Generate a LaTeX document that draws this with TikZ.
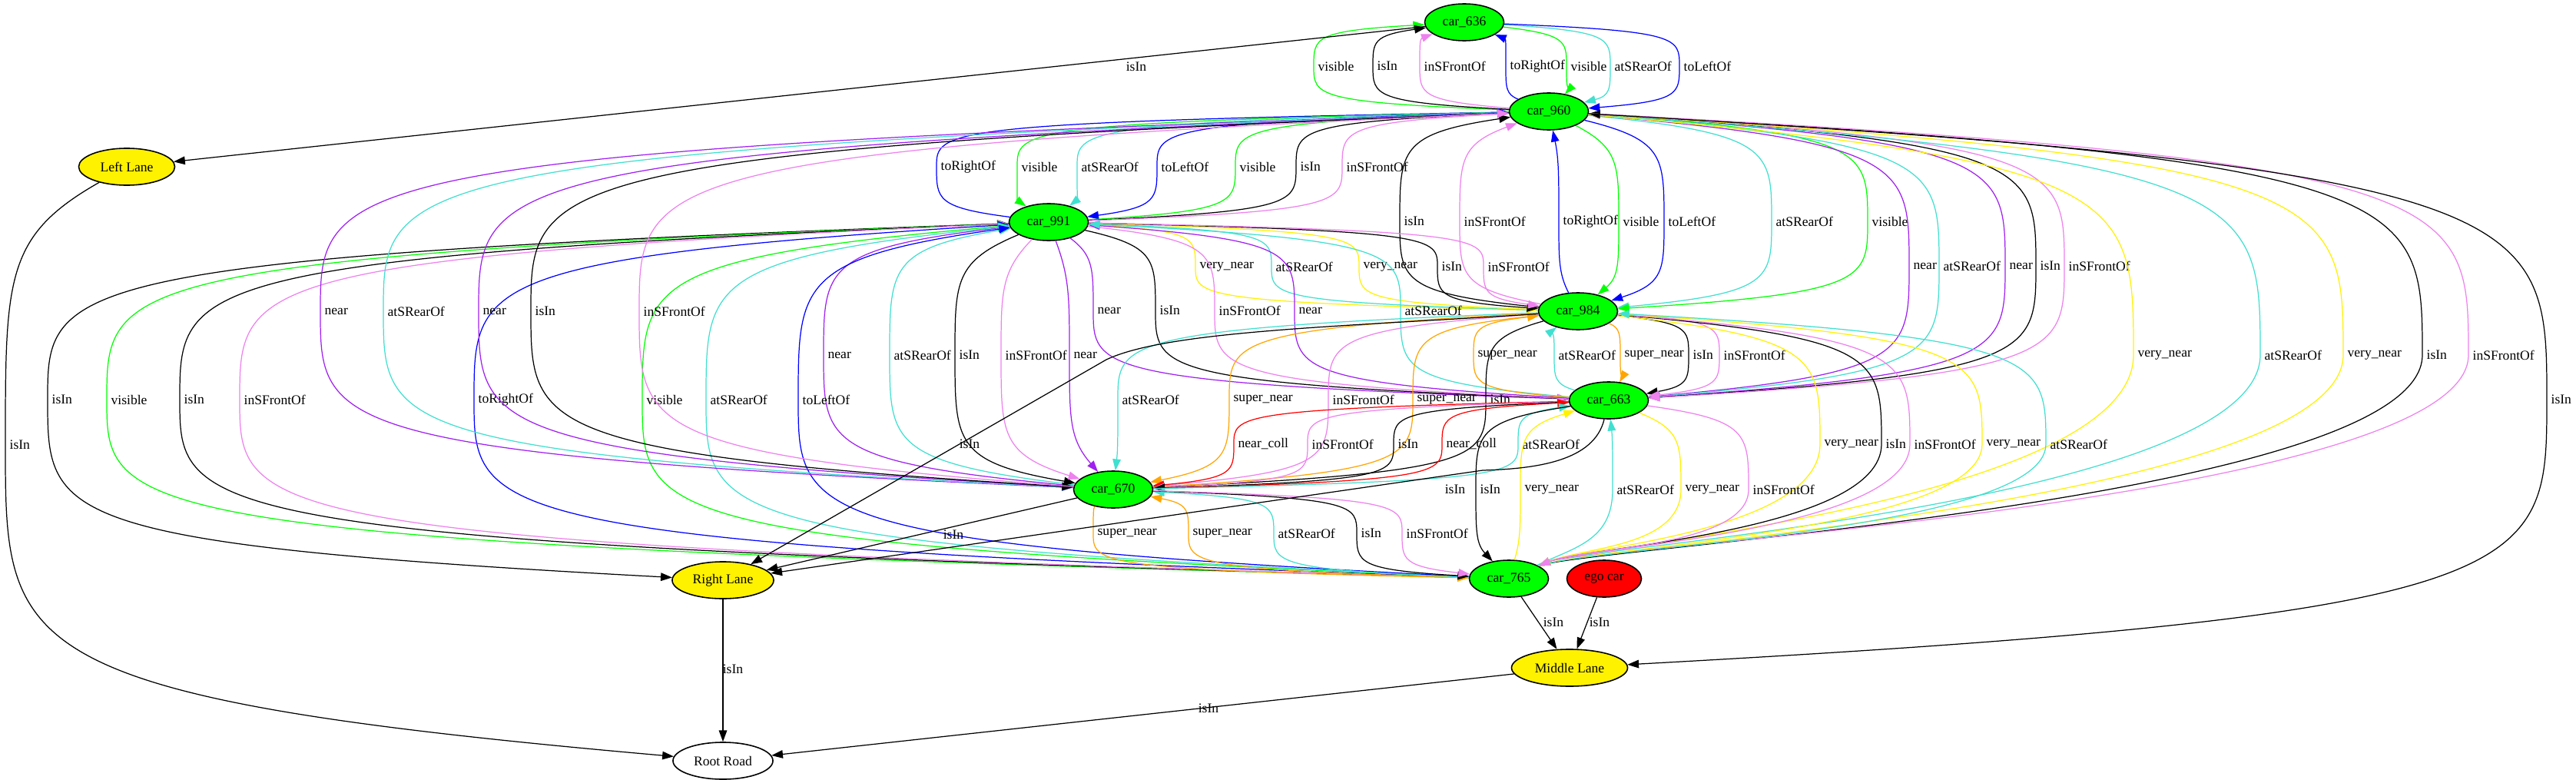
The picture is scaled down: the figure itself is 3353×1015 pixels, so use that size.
\documentclass[tikz,border=0pt]{standalone}
\usepackage{fontspec}
\setmainfont{Liberation Serif}
\usetikzlibrary{shapes.geometric,arrows.meta,calc}
\definecolor{gvpurple}{HTML}{A020F0}
\definecolor{gvviolet}{HTML}{EE82EE}
\definecolor{gvturq}{HTML}{40E0D0}
\definecolor{gvorange}{HTML}{FFA500}
\newcommand{\lblfont}{\fontsize{5}{6}\selectfont}
\tikzstyle{car} = [draw, ellipse, fill=green, line width=0.45pt,
    minimum width=1.03cm, minimum height=0.48cm, inner sep=0pt, font=\lblfont]
\tikzstyle{egocar} = [car, fill=red, minimum width=0.97cm]
\tikzstyle{lane} = [car, fill=yellow]
\tikzstyle{road} = [car, fill=white, minimum width=1.3cm]
\tikzstyle{rel} = [->, line width=0.35pt]
\tikzstyle{lbl} = [anchor=west, inner sep=0pt, xshift=0.05cm, font=\lblfont, text=black]
\tikzstyle{flbl} = [inner sep=0pt, font=\lblfont, text=black]
\tikzstyle{blk} = [rel, black]
\tikzstyle{grn} = [rel, green]
\tikzstyle{blu} = [rel, blue]
\tikzstyle{prp} = [rel, gvpurple]
\tikzstyle{vio} = [rel, gvviolet]
\tikzstyle{tur} = [rel, gvturq]
\tikzstyle{yel} = [rel, yellow]
\tikzstyle{orn} = [rel, gvorange]
\tikzstyle{rd} = [rel, red]
% #1 end control (optional), #2 style, #3 from, #4 to, #5,#6 label point, #7 label
\newcommand{\relEdge}[7][]{%
  \path (#5,#6) coordinate (m);
  \pgfpointanchor{#3}{center}\pgfgetlastxy{\ax}{\ay}%
  \pgfpointanchor{#4}{center}\pgfgetlastxy{\bx}{\by}%
  \pgfpointanchor{m}{center}\pgfgetlastxy{\mx}{\my}%
  \pgfmathsetmacro{\fa}{max(0.2,0.45*(1-abs(\mx-\ax)/100))}%
  \pgfmathsetmacro{\fb}{max(0.2,0.45*(1-abs(\mx-\bx)/100))}%
  \pgfmathsetmacro{\ga}{\fa+0.15}%
  \pgfmathsetmacro{\gb}{\fb+0.15}%
  \path ($(#3)!\fa!(m)$) coordinate (q1) ($(#3)!\ga!(m)$) coordinate (q2)
        ($(#4)!\gb!(m)$) coordinate (q3) ($(#4)!\fb!(m)$) coordinate (q4);
  \ifx\relax#1\relax \path (m |- q4) coordinate (c4); \else \path (#1) coordinate (c4); \fi
  \draw[#2] (#3) .. controls (m |- q1) and (m |- q2) .. (m) node[lbl] {#7}
     .. controls (m |- q3) and (c4) .. (#4);
}

\begin{document}
\begin{tikzpicture}[x=0.01cm, y=-0.01cm, >={Triangle[length=4.2pt,width=3pt]}]
    \useasboundingbox (0,0) rectangle (3353,1015);
    \fill[white] (0,0) rectangle (3353,1015);

    \node [car] (c636) at (1906,29) {car\_636};
    \node [car] (c960) at (2016,145) {car\_960};
    \node [car] (c991) at (1365,289) {car\_991};
    \node [car] (c984) at (2054,405) {car\_984};
    \node [car] (c663) at (2094,521) {car\_663};
    \node [car] (c670) at (1449,637) {car\_670};
    \node [car] (c765) at (1964,753) {car\_765};
    \node [egocar] (ego) at (2088,753) {ego car};
    \node [lane, minimum width=1.25cm] (LL) at (165,217) {Left Lane};
    \node [lane, minimum width=1.32cm] (RL) at (941,755) {Right Lane};
    \node [lane, minimum width=1.51cm] (ML) at (2043,869) {Middle Lane};
    \node [road] (RR) at (941,990) {Root Road};

    \relEdge{grn}{c960}{c636}{1710}{86}{visible}
    \relEdge{blk}{c960}{c636}{1787}{86}{isIn}
    \relEdge{vio}{c960}{c636}{1848}{86}{inSFrontOf}
    \relEdge{blu}{c960}{c636}{1960}{86}{toRightOf}
    \relEdge{grn}{c636}{c960}{2039}{86}{visible}
    \relEdge{tur}{c636}{c960}{2096}{86}{atSRearOf}
    \relEdge{blu}{c636}{c960}{2186}{86}{toLeftOf}

    \relEdge{blu}{c991}{c960}{1219}{217}{toRightOf}
    \relEdge{grn}{c960}{c991}{1324}{217}{visible}
    \relEdge{tur}{c960}{c991}{1402}{217}{atSRearOf}
    \relEdge{blu}{c960}{c991}{1506}{217}{toLeftOf}
    \relEdge{grn}{c991}{c960}{1608}{217}{visible}
    \relEdge{blk}{c991}{c960}{1687}{217}{isIn}
    \relEdge{vio}{c991}{c960}{1747}{217}{inSFrontOf}

    \relEdge{blk}{c984}{c960}{1822}{288}{isIn}
    \relEdge{vio}{c984}{c960}{1900}{288}{inSFrontOf}
    \relEdge{blu}{c984}{c960}{2029}{288}{toRightOf}
    \relEdge{grn}{c960}{c984}{2107}{288}{visible}
    \relEdge{blu}{c960}{c984}{2166}{288}{toLeftOf}
    \relEdge{tur}{c960}{c984}{2306}{288}{atSRearOf}
    \relEdge{grn}{c960}{c984}{2431}{288}{visible}

    \relEdge{prp}{c960}{c663}{2485}{346}{near}
    \relEdge{tur}{c960}{c663}{2524}{346}{atSRearOf}
    \relEdge{prp,<-}{c960}{c663}{2610}{346}{near}
    \relEdge{blk}{c960}{c663}{2650}{346}{isIn}
    \relEdge{vio}{c960}{c663}{2687}{346}{inSFrontOf}

    \relEdge[2060,712]{yel}{c960}{c765}{2777}{462}{very\_near}
    \relEdge[2060,712]{tur}{c960}{c765}{2942}{462}{atSRearOf}
    \relEdge[2060,712]{yel,<-}{c960}{c765}{3050}{462}{very\_near}
    \relEdge[2060,712]{blk,<-}{c960}{c765}{3153}{462}{isIn}
    \relEdge[2060,712]{vio}{c960}{c765}{3213}{462}{inSFrontOf}
    \relEdge{blk}{c960}{ML}{3315}{520}{isIn}

    \relEdge{yel,<-}{c991}{c984}{1556}{347}{very\_near}
    \relEdge{tur,<-}{c991}{c984}{1655}{347}{atSRearOf}
    \relEdge{yel}{c991}{c984}{1769}{347}{very\_near}
    \relEdge{blk}{c991}{c984}{1871}{347}{isIn}
    \relEdge{vio}{c991}{c984}{1931}{347}{inSFrontOf}

    \relEdge{prp}{c991}{c663}{1423}{404}{near}
    \relEdge{blk}{c991}{c663}{1504}{404}{isIn}
    \relEdge{vio}{c991}{c663}{1581}{404}{inSFrontOf}
    \relEdge{prp,<-}{c991}{c663}{1685}{404}{near}
    \relEdge{tur,<-}{c991}{c663}{1823}{404}{atSRearOf}

    \relEdge{prp,<-}{c991}{c670}{1072}{462}{near}
    \relEdge{tur,<-}{c991}{c670}{1158}{462}{atSRearOf}
    \relEdge{blk}{c991}{c670}{1243}{462}{isIn}
    \relEdge{vio}{c991}{c670}{1303}{462}{inSFrontOf}
    \relEdge{prp}{c991}{c670}{1392}{462}{near}

    \relEdge{blk}{c991}{RL}{62}{520}{isIn}
    \relEdge{grn}{c765}{c991}{139}{520}{visible}
    \relEdge{blk}{c765}{c991}{234}{520}{isIn}
    \relEdge{vio}{c765}{c991}{312}{520}{inSFrontOf}
    \relEdge{blu}{c765}{c991}{617}{520}{toRightOf}
    \relEdge{grn}{c765}{c991}{836}{520}{visible}
    \relEdge{tur}{c765}{c991}{919}{520}{atSRearOf}
    \relEdge{blu}{c765}{c991}{1039}{520}{toLeftOf}

    \relEdge{prp,<-}{c960}{c670}{417}{405}{near}
    \relEdge{tur}{c960}{c670}{499}{405}{atSRearOf}
    \relEdge{prp}{c960}{c670}{623}{405}{near}
    \relEdge{blk}{c960}{c670}{691}{405}{isIn}
    \relEdge{vio,<-}{c960}{c670}{832}{405}{inSFrontOf}

    \relEdge{orn,<-}{c984}{c663}{1918}{462}{super\_near}
    \relEdge{tur,<-}{c984}{c663}{2023}{462}{atSRearOf}
    \relEdge{orn}{c984}{c663}{2109}{462}{super\_near}
    \relEdge{blk}{c984}{c663}{2198}{462}{isIn}
    \relEdge{vio}{c984}{c663}{2238}{462}{inSFrontOf}

    \relEdge{tur}{c984}{c670}{1455}{520}{atSRearOf}
    \relEdge{orn}{c984}{c670}{1600}{520}{super\_near}
    \relEdge{vio}{c984}{c670}{1729}{520}{inSFrontOf}
    \relEdge{orn,<-}{c984}{c670}{1839}{520}{super\_near}
    \relEdge{blk}{c984}{c670}{1934}{520}{isIn}

    \relEdge{rd}{c663}{c670}{1606}{578}{near\_coll}
    \relEdge{vio}{c663}{c670}{1702}{578}{inSFrontOf}
    \relEdge{blk}{c663}{c670}{1814}{578}{isIn}
    \relEdge{rd,<-}{c663}{c670}{1877}{578}{near\_coll}
    \relEdge{tur,<-}{c663}{c670}{1976}{578}{atSRearOf}

    \relEdge[2060,712]{yel}{c984}{c765}{2369}{578}{very\_near}
    \relEdge[2060,712]{blk}{c984}{c765}{2449}{578}{isIn}
    \relEdge[2060,712]{vio}{c984}{c765}{2486}{578}{inSFrontOf}
    \relEdge[2060,712]{yel,<-}{c984}{c765}{2580}{578}{very\_near}
    \relEdge[2060,712]{tur,<-}{c984}{c765}{2663}{578}{atSRearOf}

    \relEdge{blk}{c663}{c765}{1921}{637}{isIn}
    \relEdge{yel,<-}{c663}{c765}{1979}{637}{very\_near}
    \relEdge[2050,712]{tur,<-}{c663}{c765}{2099}{637}{atSRearOf}
    \relEdge[2060,712]{yel}{c663}{c765}{2188}{637}{very\_near}
    \relEdge[2060,712]{vio}{c663}{c765}{2276}{637}{inSFrontOf}

    \relEdge{orn}{c670}{c765}{1423}{694}{super\_near}
    \relEdge{orn,<-}{c670}{c765}{1547}{694}{super\_near}
    \relEdge{tur,<-}{c670}{c765}{1658}{694}{atSRearOf}
    \relEdge{blk}{c670}{c765}{1766}{694}{isIn}
    \relEdge{vio}{c670}{c765}{1825}{694}{inSFrontOf}

    \relEdge{blk}{LL}{RR}{7}{579}{isIn}

    \draw [blk] (c984) .. controls (1750,425) and (1520,430) .. (1440,468) -- (RL);
    \node [flbl] (l0) at (1262,578) {isIn};
    \draw [blk] (c663) .. controls (2075,600) and (2000,610) .. (1930,612) -- (RL);
    \node [flbl] (l7) at (1894,637) {isIn};
    \draw [blk] (c636) -- (LL);
    \node [flbl] (l1) at (1479,87) {isIn};
    \draw [blk] (c670) -- (RL);
    \node [flbl] (l2) at (1241,696) {isIn};
    \draw [blk] (c765) -- (ML);
    \node [flbl] (l3) at (2022,810) {isIn};
    \draw [blk] (ego) -- (ML);
    \node [flbl] (l4) at (2082,810) {isIn};
    \draw [blk] (RL) -- (RR);
    \node [flbl] (l5) at (954,871) {isIn};
    \draw [blk] (ML) -- (RR);
    \node [flbl] (l6) at (1573,922) {isIn};
\end{tikzpicture}
\end{document}
